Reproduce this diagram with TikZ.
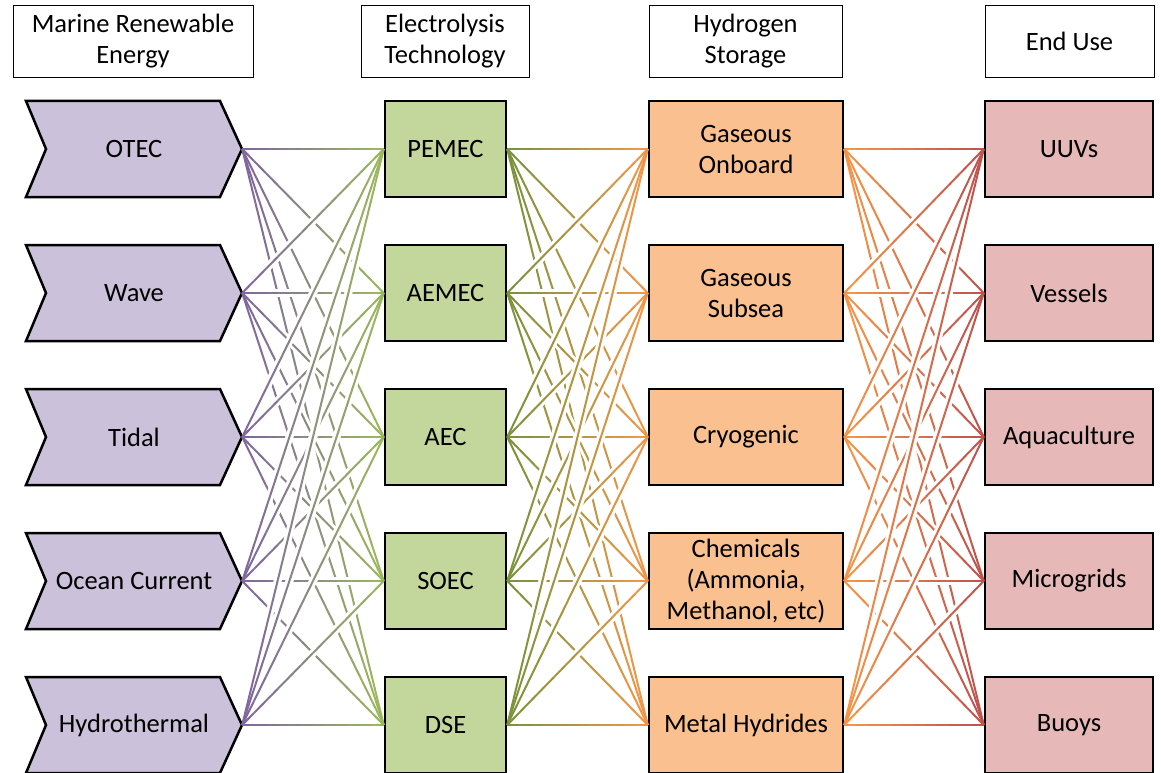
\documentclass[tikz,border=0pt]{standalone}
\usepackage{fontspec}
\setmainfont{Carlito}
\usetikzlibrary{calc}

\definecolor{srcfill}{HTML}{CCC1DA}
\definecolor{srcline}{HTML}{8064A2}
\definecolor{techfill}{HTML}{C3D69B}
\definecolor{techline}{HTML}{9BBB59}
\definecolor{techdark}{HTML}{77933C}
\definecolor{storefill}{HTML}{FAC090}
\definecolor{storeline}{HTML}{F79646}
\definecolor{usefill}{HTML}{E6B9B8}
\definecolor{useline}{HTML}{C0504D}

\tikzset{
  header/.style={draw, line width=0.8pt, align=center, minimum height=72pt, inner sep=0pt},
  block/.style={draw, line width=2.5pt, align=center, minimum height=96pt, inner sep=0pt},
  chevron/.style={draw, line width=2.5pt, fill=srcfill},
  source/.style={align=center, minimum height=96pt, minimum width=216pt, inner sep=0pt},
  tech/.style={block, fill=techfill, minimum width=121pt},
  store/.style={block, fill=storefill, minimum width=194pt},
  enduse/.style={block, fill=usefill, minimum width=168pt},
  link/.style={line width=2pt},
}

% every node of #1 to every node of #2, colour running from #3 to #4
\newcommand{\linkset}[4]{%
  \foreach \a in {#1} {
    \foreach \b in {#2} {
      \draw[white, line width=8pt] ($(\a.east)!0.15!(\b.west)$) -- ($(\a.east)!0.85!(\b.west)$);
      \foreach \k in {0,...,11} {
        \pgfmathsetmacro\ta{\k/12}
        \pgfmathsetmacro\tb{(\k+1)/12}
        \pgfmathtruncatemacro\pct{100*(\k+0.5)/12}
        \draw[link, #4!\pct!#3] ($(\a.east)!\ta!(\b.west)$) -- ($(\a.east)!\tb!(\b.west)$);
      }
    }
  }}

\begin{document}
\begin{tikzpicture}[x=1pt, y=-1pt, every node/.style={font=\fontsize{26.5}{31}\selectfont}]
\useasboundingbox (0,0) rectangle (1161,773);

% column headers
\node[header, minimum width=240pt] (hmre) at (133,41) {Marine Renewable\\Energy};
\node[header, minimum width=168pt] (htech) at (445,41) {Electrolysis\\Technology};
\node[header, minimum width=193pt] (hstore) at (745.5,41) {Hydrogen\\Storage};
\node[header, minimum width=169pt] (huse) at (1069.5,41) {End Use};

% marine renewable energy
\foreach \n/\y/\t in {otec/149/OTEC, wave/293/Wave, tidal/437/Tidal,
    current/581/Ocean Current, hydro/725/Hydrothermal} {
  \draw[chevron] (26,\y-48) -- (220,\y-48) -- (242,\y) -- (220,\y+48)
    -- (26,\y+48) -- (46,\y) -- cycle;
  \node[source] (\n) at (134,\y) {\t};
}

% electrolysis
\node[tech] (pemec) at (445.5,149) {PEMEC};
\node[tech] (aemec) at (445.5,293) {AEMEC};
\node[tech] (aec) at (445.5,437) {AEC};
\node[tech] (soec) at (445.5,581) {SOEC};
\node[tech] (dse) at (445.5,725) {DSE};

% storage
\node[store] (onboard) at (746,149) {Gaseous\\Onboard};
\node[store] (subsea) at (746,293) {Gaseous\\Subsea};
\node[store] (cryo) at (746,437) {Cryogenic};
\node[store] (chem) at (746,581) {Chemicals\\(Ammonia,\\Methanol, etc)};
\node[store] (hydride) at (746,725) {Metal Hydrides};

% end use
\node[enduse] (uuv) at (1069,149) {UUVs};
\node[enduse] (vessel) at (1069,293) {Vessels};
\node[enduse] (aqua) at (1069,437) {Aquaculture};
\node[enduse] (grid) at (1069,581) {Microgrids};
\node[enduse] (buoy) at (1069,725) {Buoys};

\linkset{otec,wave,tidal,current,hydro}{pemec,aemec,aec,soec,dse}{srcline}{techline}
\linkset{pemec,aemec,aec,soec,dse}{onboard,subsea,cryo,chem,hydride}{techdark}{storeline}
\linkset{onboard,subsea,cryo,chem,hydride}{uuv,vessel,aqua,grid,buoy}{storeline}{useline}
\end{tikzpicture}
\end{document}
